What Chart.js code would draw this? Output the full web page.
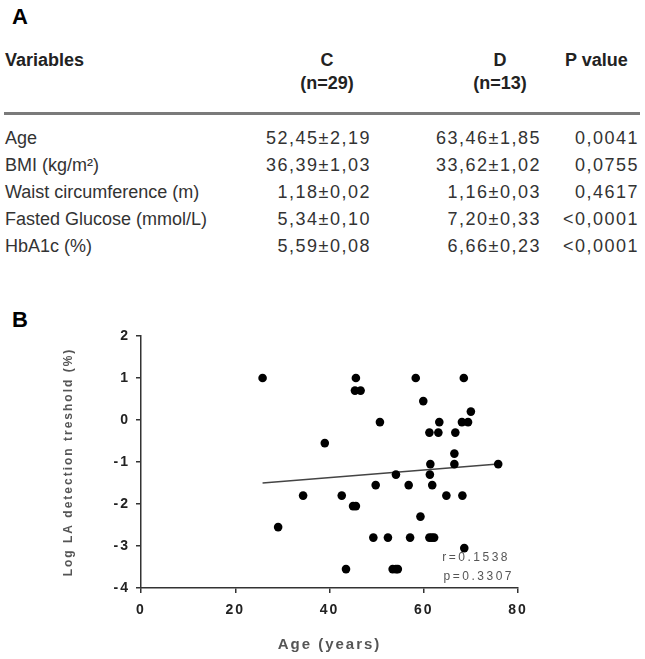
<!DOCTYPE html>
<html>
<head>
<meta charset="utf-8">
<script src="https://cdn.jsdelivr.net/npm/chart.js@4.4.1/dist/chart.umd.min.js"></script>
<style>
  html, body { margin: 0; padding: 0; background: #fff; }
  body { width: 645px; height: 659px; position: relative; overflow: hidden;
         font-family: "Liberation Sans", Arial, sans-serif; color: #333; }
  .panel { position: absolute; font-weight: bold; font-size: 22px; line-height: 22px; color: #000; }
  .t { position: absolute; font-size: 18px; line-height: 20px; white-space: nowrap; }
  .h { font-weight: bold; color: #222; }
  .num { letter-spacing: 1.5px; text-align: right; }
  .ctr { text-align: center; width: 100px; }
  #rule { position: absolute; left: 4px; top: 112px; width: 636px; height: 3px; background: #7a7a7a; }
  #chartBox { position: absolute; left: 0; top: 290px; }
</style>
</head>
<body>
<div class="panel" style="left:12px;top:6px;">A</div>
<div class="t h" style="left:5px;top:50px;">Variables</div>
<div class="t h ctr" style="left:277px;top:50px;">C</div>
<div class="t h ctr" style="left:277px;top:73px;">(n=29)</div>
<div class="t h ctr" style="left:450px;top:50px;">D</div>
<div class="t h ctr" style="left:450px;top:73px;">(n=13)</div>
<div class="t h" style="left:565px;top:50px;">P value</div>
<div id="rule"></div>
<div id="rows"></div>

<div class="panel" style="left:12px;top:309px;">B</div>
<div id="chartBox"><canvas id="ageChart" width="645" height="369"></canvas></div>

<script>
// table A
const variables = ['Age', 'BMI (kg/m²)', 'Waist circumference (m)', 'Fasted Glucose (mmol/L)', 'HbA1c (%)'];
const groupC = ['52,45±2,19', '36,39±1,03', '1,18±0,02', '5,34±0,10', '5,59±0,08'];
const groupD = ['63,46±1,85', '33,62±1,02', '1,16±0,03', '7,20±0,33', '6,66±0,23'];
const pValues = ['0,0041', '0,0755', '0,4617', '<0,0001', '<0,0001'];

// scatter B
const ageYears = [25.8, 45.6, 45.4, 46.6, 58.3, 68.5, 59.9, 70.0, 50.7, 63.3, 68.1, 69.4,
                  61.2, 63.1, 66.7, 39.0, 66.5, 66.5, 61.4, 75.8, 54.1, 61.3, 49.8, 56.8,
                  61.8, 34.4, 42.6, 64.8, 68.2, 45.0, 45.6, 59.3, 29.1, 49.3, 52.4, 57.1,
                  61.2, 61.7, 62.2, 68.6, 43.5, 53.4, 54.1, 54.5];
const logThreshold = [1.0, 1.0, 0.7, 0.7, 1.0, 1.0, 0.45, 0.2, -0.05, -0.05, -0.05, -0.05,
                      -0.3, -0.3, -0.3, -0.55, -0.8, -1.05, -1.05, -1.05, -1.3, -1.3, -1.55, -1.55,
                      -1.55, -1.8, -1.8, -1.8, -1.8, -2.05, -2.05, -2.3, -2.55, -2.8, -2.8, -2.8,
                      -2.8, -2.8, -2.8, -3.05, -3.55, -3.55, -3.55, -3.55];
const fitAge = [25.8, 75.8];
const fitLog = [-1.5, -1.05];
const xTicks = [0, 20, 40, 60, 80];
const yTicks = [2, 1, 0, -1, -2, -3, -4];
const statLines = ['r=0.1538', 'p=0.3307'];

const rowsEl = document.getElementById('rows');
variables.forEach(function(name, i) {
    const top = 128 + i * 27;
    rowsEl.insertAdjacentHTML('beforeend',
        '<div class="t" style="left:5px;top:' + top + 'px;">' + name + '</div>' +
        '<div class="t num" style="right:274px;top:' + top + 'px;">' + groupC[i] + '</div>' +
        '<div class="t num" style="right:104px;top:' + top + 'px;">' + groupD[i] + '</div>' +
        '<div class="t num" style="right:6px;top:' + top + 'px;">' + pValues[i].replace('<', '&lt;') + '</div>');
});

const family = '"Liberation Sans", Arial, sans-serif';

const spacingPlugin = {
    id: 'spacing',
    beforeDraw(chart) {
        chart.ctx.letterSpacing = '2px';
    },
    afterDraw(chart) {
        const { ctx, chartArea } = chart;
        const y = chart.scales.y;
        ctx.save();
        ctx.letterSpacing = '2.5px';
        ctx.font = '12px ' + family;
        ctx.fillStyle = '#555';
        ctx.textAlign = 'right';
        ctx.textBaseline = 'middle';
        ctx.fillText(statLines[0], chartArea.right - 8, y.getPixelForValue(-3.29));
        ctx.fillText(statLines[1], chartArea.right - 4, y.getPixelForValue(-3.74));
        ctx.restore();
    }
};

const axisGrid = { drawOnChartArea: false, drawTicks: true, tickLength: 5, color: '#333', lineWidth: 1.5 };
const axisBorder = { color: '#333', width: 1.5 };

new Chart(document.getElementById('ageChart').getContext('2d'), {
    type: 'scatter',
    data: {
        datasets: [{
            data: ageYears.map((x, i) => ({ x: x, y: logThreshold[i] })),
            backgroundColor: '#000',
            borderWidth: 0,
            pointRadius: 4.3
        }, {
            type: 'line',
            data: fitAge.map((x, i) => ({ x: x, y: fitLog[i] })),
            borderColor: '#444',
            borderWidth: 1.5,
            pointRadius: 0,
            fill: false
        }]
    },
    options: {
        responsive: false,
        animation: false,
        layout: { padding: { left: 40, right: 127, top: 46, bottom: 0 }, autoPadding: false },
        plugins: { legend: { display: false }, tooltip: { enabled: false } },
        scales: {
            x: {
                type: 'linear', min: 0, max: 80,
                afterBuildTicks: s => { s.ticks = xTicks.map(v => ({ value: v })); },
                afterFit: s => { s.height = 71; },
                ticks: { color: '#222', padding: 9, font: { family: family, size: 14, weight: 'bold' } },
                grid: axisGrid,
                border: axisBorder,
                title: { display: true, text: 'Age (years)', color: '#555',
                         font: { family: family, size: 15, weight: 'bold' }, padding: { top: 0, bottom: 5 } }
            },
            y: {
                type: 'linear', min: -4, max: 2,
                afterBuildTicks: s => { s.ticks = yTicks.map(v => ({ value: v })); },
                afterFit: s => { s.width = 101; },
                ticks: { color: '#222', padding: 6, font: { family: family, size: 14, weight: 'bold' } },
                grid: axisGrid,
                border: axisBorder,
                title: { display: true, text: 'Log LA detection treshold (%)', color: '#555',
                         font: { family: family, size: 12, weight: 'bold' }, padding: { top: 21, bottom: 0 } }
            }
        }
    },
    plugins: [spacingPlugin]
});
</script>
</body>
</html>
